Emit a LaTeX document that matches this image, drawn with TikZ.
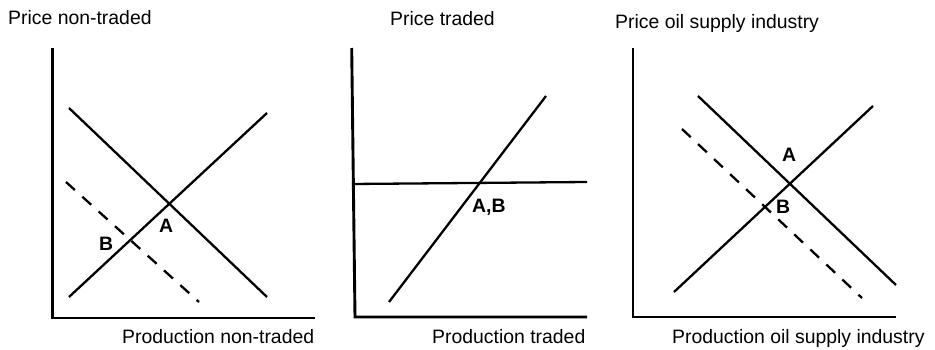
\documentclass[tikz,border=0pt]{standalone}
\usepackage{fontspec}
\setmainfont{Liberation Sans}
\usepackage{tikz}

\begin{document}
\begin{tikzpicture}[x=1pt, y=-1pt,
    axis/.style={line width=2.9pt},
    curve/.style={line width=2.3pt},
    shifted/.style={line width=2.3pt, dash pattern=on 12pt off 10pt},
    title/.style={font=\fontsize{19.4}{21}\selectfont, inner sep=0pt, anchor=base west},
    point/.style={font=\fontsize{19.4}{21}\selectfont\bfseries, inner sep=0pt, anchor=base west}]
  \useasboundingbox (0, 0) rectangle (935, 350);
  % non-traded
  \draw[axis] (52.5, 48) -- (52.5, 318) -- (315, 318);
  \draw[curve] (69, 108) -- (267, 297);
  \draw[curve] (69, 297) -- (267, 113);
  \draw[shifted] (66, 182) -- (199, 302);
  \node[title] (pn) at (8, 25) {Price non-traded};
  \node[title] (qn) at (122, 343) {Production non-traded};
  \node[point] (an) at (159, 233) {A};
  \node[point] (bn) at (99, 251) {B};
  % traded
  \draw[axis] (351.7, 48) -- (355, 317) -- (587, 317);
  \draw[curve] (352, 184) -- (587, 182);
  \draw[curve] (389, 302) -- (546, 96);
  \node[title] (pt) at (390, 26) {Price traded};
  \node[title] (qt) at (432, 343) {Production traded};
  \node[point] (abt) at (472, 212) {A,B};
  % oil supply industry
  \draw[axis] (633, 48) -- (633, 317) -- (896, 317);
  \draw[curve] (698, 96) -- (896, 285);
  \draw[curve] (674, 292) -- (873, 106);
  \draw[shifted] (682, 129) -- (862, 298);
  \node[title] (po) at (615, 29) {Price oil supply industry};
  \node[title] (qo) at (672, 343) {Production oil supply industry};
  \node[point] (ao) at (782, 162) {A};
  \node[point] (bo) at (776, 213) {B};
\end{tikzpicture}
\end{document}
